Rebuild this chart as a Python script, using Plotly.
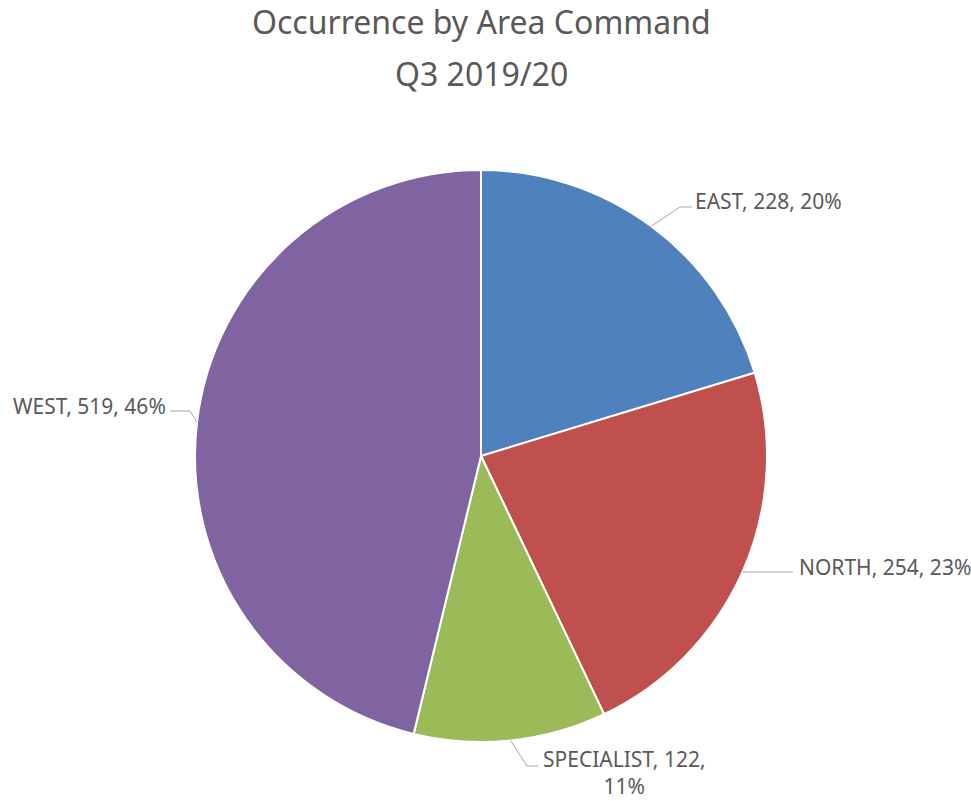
import math
import plotly.graph_objects as go

# Occurrences per area command, Q3 2019/20
areas = ["EAST", "NORTH", "SPECIALIST", "WEST"]
counts = [228, 254, 122, 519]
colors = ["#4F81BD", "#C0504D", "#9BBB59", "#8064A2"]

W, H = 971, 801
CX, CY, R = 481, 456, 286  # pie centre and radius in pixels

def paper(x, y):
    return x / W, 1 - y / H

total = sum(counts)
pcts = [round(100 * c / total) for c in counts]

fig = go.Figure(go.Pie(
    labels=areas,
    values=counts,
    sort=False,
    direction="clockwise",
    rotation=0,
    marker=dict(colors=colors, line=dict(color="white", width=2)),
    textinfo="none",
    hoverinfo="label+value+percent",
    domain=dict(x=[(CX - R) / W, (CX + R) / W], y=[1 - (CY + R) / H, 1 - (CY - R) / H]),
    showlegend=False,
))

# label placement: (text x, text y, anchor, elbow x, elbow y, line end x)
label_layout = {
    "EAST": (693, 201, "left", 680, 207, 692),
    "NORTH": (797, 567, "left", 745, 572, 793),
    "SPECIALIST": (541, 772, "left", 527, 766, 538),
    "WEST": (168, 406, "right", 190, 411, 170),
}

FONT = "Noto Sans, Open Sans, sans-serif"
font = dict(family=FONT, size=21, color="#595959")
annotations = []
shapes = []
cum = 0
for name, c, p in zip(areas, counts, pcts):
    mid = (cum + c / 2) / total * 2 * math.pi
    cum += c
    ex, ey = CX + R * math.sin(mid), CY - R * math.cos(mid)
    tx, ty, anchor, bx, by, lx = label_layout[name]
    if name == "SPECIALIST":
        text = f"{name}, {c},<br>{p}%"
    else:
        text = f"{name}, {c}, {p}%"
    ax, ay = paper(tx, ty)
    annotations.append(dict(
        x=ax, y=ay, xref="paper", yref="paper", text=text, showarrow=False,
        xanchor=anchor, yanchor="middle", align="center", font=font,
    ))
    p0, p1, p2 = paper(ex, ey), paper(bx, by), paper(lx, by)
    shapes.append(dict(
        type="path", xref="paper", yref="paper",
        path=f"M {p0[0]} {p0[1]} L {p1[0]} {p1[1]} L {p2[0]} {p2[1]}",
        line=dict(color="#A6A6A6", width=1),
    ))

# two-line chart title
for line, y in (("Occurrence by Area Command", 22), ("Q3 2019/20", 73)):
    tx, ty = paper(481, y)
    annotations.append(dict(
        x=tx, y=ty, xref="paper", yref="paper", showarrow=False, text=line,
        xanchor="center", yanchor="middle",
        font=dict(family=FONT, size=32, color="#595959"),
    ))

fig.update_layout(
    width=W, height=H,
    margin=dict(l=0, r=0, t=0, b=0),
    paper_bgcolor="white",
    plot_bgcolor="white",
    annotations=annotations,
    shapes=shapes,
)

fig.write_html("out.html")
